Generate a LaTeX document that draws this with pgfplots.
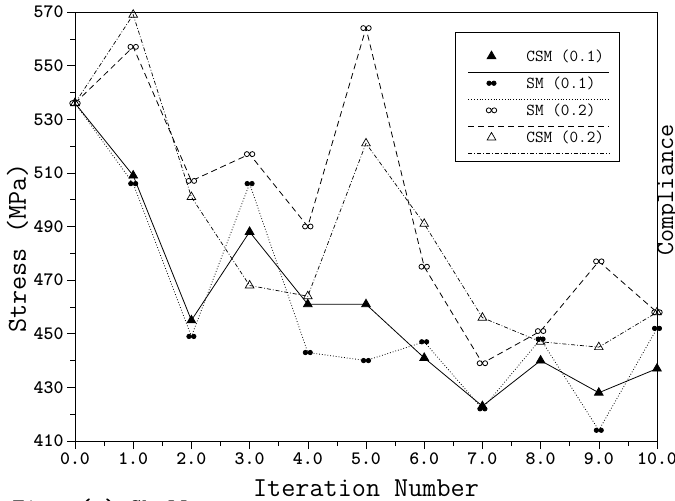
\documentclass[border=0pt]{standalone}
\usepackage{pgfplots}
\pgfplotsset{compat=1.18}

\pgfdeclareplotmark{ddot}{%
  \pgfpathcircle{\pgfpoint{-1.1\pgfplotmarksize}{0pt}}{\pgfplotmarksize}%
  \pgfpathcircle{\pgfpoint{1.1\pgfplotmarksize}{0pt}}{\pgfplotmarksize}%
  \pgfusepathqfillstroke}

\begin{document}
\ttfamily
\begin{tikzpicture}
\begin{axis}[
  scale only axis, width=582bp, height=429bp,
  xmin=0, xmax=10, ymin=410, ymax=570,
  xtick={0,1,...,10}, minor x tick num=1,
  ytick={410,430,...,570}, minor y tick num=1,
  tick align=outside, tick pos=left,
  major tick length=8bp, minor tick length=5bp,
  x tick label style={/pgf/number format/.cd, fixed, fixed zerofill, precision=1, /tikz/.cd},
  /pgf/number format/assume math mode=true,
  tick label style={font=\fontsize{19}{21}\selectfont\ttfamily\bfseries},
  label style={font=\fontsize{27.5}{29}\selectfont\ttfamily},
  xlabel={Iteration Number},
  ylabel={Stress (MPa)},
  xlabel style={at={(axis description cs:0.5,0)}, anchor=base, yshift=-55bp},
  ylabel style={at={(axis description cs:-0.0842,0.45)}, anchor=base},
  axis line style={line width=0.8pt},
  every tick/.style={black, line width=0.6pt},
  clip=false,
  legend cell align=left,
  legend style={at={(axis description cs:0.653,0.953)}, anchor=north west,
    draw=black, line width=0.9pt, inner xsep=13bp, inner ysep=15bp, row sep=10bp,
    font=\fontsize{16.8}{18}\selectfont\ttfamily},
  legend image code/.code={
    \draw[mark=none,overlay] (-23bp,-16bp) -- (118bp,-16bp);
    \path[draw=none,fill=none] (-23bp,0bp) -- (33bp,0bp);
    \draw plot coordinates {(0bp,0bp)};
  },
]
% CSM (0.1)
\addplot[black, line width=0.8pt, mark=triangle*, mark size=5pt, mark options={solid, fill=black}]
  coordinates {(0,536) (1,509) (2,455) (3,488) (4,461) (5,461) (6,441) (7,423) (8,440) (9,428) (10,437)};
\addlegendentry{CSM (0.1)}
% SM (0.1)
\addplot[black, line width=0.8pt, dotted, mark=ddot, mark size=2.2pt, mark options={solid, fill=black}]
  coordinates {(0,536) (1,506) (2,449) (3,506) (4,443) (5,440) (6,447) (7,422) (8,448) (9,414) (10,452)};
\addlegendentry{SM (0.1)}
% SM (0.2)
\addplot[black, line width=0.8pt, dash pattern=on 6pt off 4pt, mark=ddot, mark size=2.5pt, mark options={solid, fill=white}]
  coordinates {(0,536) (1,557) (2,507) (3,517) (4,490) (5,564) (6,475) (7,439) (8,451) (9,477) (10,458)};
\addlegendentry{SM (0.2)}
% CSM (0.2)
\addplot[black, line width=0.7pt, dash pattern=on 4pt off 2pt on 0.8pt off 2pt, mark=triangle, mark size=5pt, mark options={solid, fill=white}]
  coordinates {(0,536) (1,569) (2,501) (3,468) (4,464) (5,521) (6,491) (7,456) (8,447) (9,445) (10,458)};
\addlegendentry{CSM (0.2)}

\node[rotate=90, font=\fontsize{25.5}{27}\selectfont\ttfamily] at (axis description cs:1.019,0.585) {Compliance};
\node[anchor=north west, inner sep=0pt, font=\fontsize{24}{26}\selectfont\ttfamily\bfseries] at (axis description cs:-0.108,-0.134) {Fig. (a) Shell};
\end{axis}
\pgfresetboundingbox
\path ([shift={(-75bp,-60bp)}]current axis.south west) rectangle ([shift={(18bp,12bp)}]current axis.north east);
\end{tikzpicture}
\end{document}
